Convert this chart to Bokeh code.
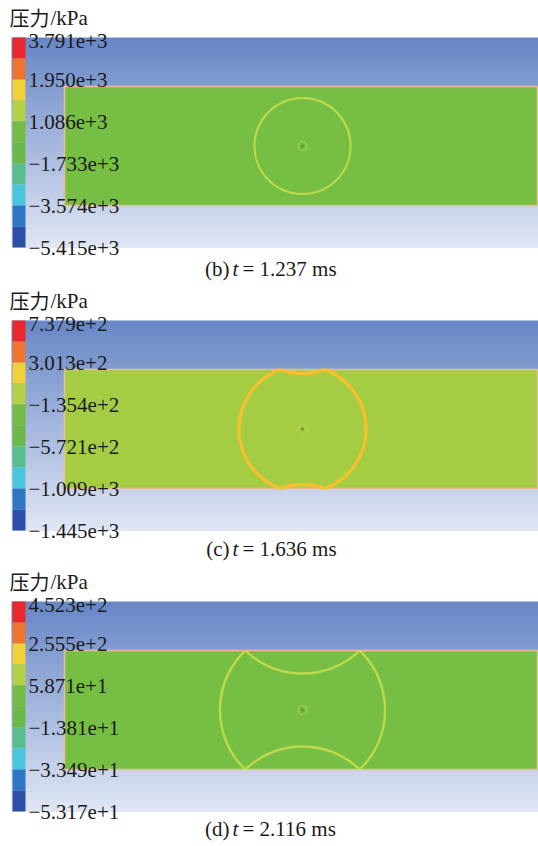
import numpy as np
from bokeh.plotting import figure
from bokeh.models import Range1d
from bokeh.core.properties import value
from bokeh.embed import file_html
from bokeh.resources import INLINE

# ---- data -------------------------------------------------------------
legend_quantity = "压力"
legend_unit = "/kPa"
# pressure legend levels (kPa), top to bottom, one list per snapshot
levels_b = ["3.791e+3", "1.950e+3", "1.086e+3", "\u22121.733e+3", "\u22123.574e+3", "\u22125.415e+3"]
levels_c = ["7.379e+2", "3.013e+2", "\u22121.354e+2", "\u22125.721e+2", "\u22121.009e+3", "\u22121.445e+3"]
levels_d = ["4.523e+2", "2.555e+2", "5.871e+1", "\u22121.381e+1", "\u22123.349e+1", "\u22125.317e+1"]
panel_tags = ["(b)", "(c)", "(d)"]
times_ms = [1.237, 1.636, 2.116]
# radius of the blast front in each snapshot (px in the plate view)
front_radius = [48.0, 63.5, 82.5]

# ---- styling ----------------------------------------------------------
palette = ["#e8282c", "#ee7530", "#f2d038", "#b3d146", "#74bc45",
           "#6db84a", "#58be8e", "#48c6dc", "#2e76c4", "#2b4fa6"]
plate_fill = ["#76bf44", "#a4cd44", "#76bf44"]
front_color = ["#bdd94c", "#f6c02e", "#c0da4c"]
front_width = [2.2, 3.4, 2.4]

panel_top = [0, 283, 564]
caption_y = [268, 548, 828]
bar_x0, bar_x1 = 12, 25
bar_h = 210
plate_x0, plate_x1 = 64, 537
bg_x0, bg_x1 = 11, 538
src_x = 302
serif = value("Liberation Serif")
ink = "#1a1a1a"

p = figure(width=538, height=846, output_backend="svg", toolbar_location=None,
           x_range=Range1d(0, 538), y_range=Range1d(846, 0),
           min_border=0, background_fill_color="white", border_fill_color="white")
p.axis.visible = False
p.grid.visible = False
p.outline_line_color = None

levels_all = [levels_b, levels_c, levels_d]

for k in range(3):
    oy = panel_top[k]
    bar_top = 37 + oy
    bar_bot = bar_top + bar_h

    # background sky gradient
    n = 70
    edges = np.linspace(bar_top, bar_bot, n + 1)
    c0 = np.array([104, 135, 198])
    c1 = np.array([224, 230, 244])
    tt = np.linspace(0, 1, n)
    cols = ["#%02x%02x%02x" % tuple((c0 + (c1 - c0) * t).astype(int)) for t in tt]
    p.quad(left=bg_x0, right=bg_x1, top=edges[:-1], bottom=edges[1:] + 0.5,
           fill_color=cols, line_color=None)

    # plate
    pl_top = 86 + oy
    pl_bot = 205 + oy
    p.quad(left=plate_x0, right=plate_x1, top=pl_top, bottom=pl_bot,
           fill_color=plate_fill[k], line_color="#ecbc98", line_width=1.6)

    # blast front: direct wave plus reflections from both faces
    cy = 0.5 * (pl_top + pl_bot)
    R = front_radius[k]
    th = np.linspace(0, 2 * np.pi, 721)
    xs_all, ys_all = [], []
    for ccy, keep in [(cy, lambda y: (y >= pl_top) & (y <= pl_bot)),
                      (2 * pl_top - cy, lambda y: y >= pl_top),
                      (2 * pl_bot - cy, lambda y: y <= pl_bot)]:
        xs = src_x + R * np.cos(th)
        ys = ccy + R * np.sin(th)
        m = keep(ys)
        xs = np.where(m, xs, np.nan)
        ys = np.where(m, ys, np.nan)
        xs_all.append(np.append(xs, np.nan))
        ys_all.append(np.append(ys, np.nan))
    p.line(np.concatenate(xs_all), np.concatenate(ys_all),
           line_color=front_color[k], line_width=front_width[k])

    # charge location
    p.scatter([src_x], [cy], size=9, marker="circle", fill_color=None,
              line_color="#bcd64e", line_width=1.2, line_alpha=0.8)
    p.scatter([src_x], [cy], size=3, marker="circle", fill_color="#5a9a40",
              line_color=None)

    # colour bar
    seg = bar_h / len(palette)
    tops = bar_top + seg * np.arange(len(palette))
    p.quad(left=bar_x0, right=bar_x1, top=tops, bottom=tops + seg,
           fill_color=palette, line_color=None)

    # level labels at every second boundary
    ly = bar_top + seg * 2 * np.arange(len(levels_all[k]))
    ly[0] += 3
    p.text(x=[28] * len(ly), y=ly, text=levels_all[k], text_font=serif,
           text_font_size="21px", text_baseline="middle", text_align="left",
           text_color=ink)

    # legend title: quantity and unit
    p.text(x=[9], y=[17 + oy], text=[legend_quantity],
           text_font=value("Noto Sans CJK SC"),
           text_font_size="20px", text_baseline="middle", text_align="left",
           text_color=ink)
    p.text(x=[50], y=[17 + oy], text=[legend_unit], text_font=serif,
           text_font_size="21px", text_baseline="middle", text_align="left",
           text_color=ink)

    # caption
    yc = caption_y[k]
    p.text(x=[229], y=[yc], text=[panel_tags[k]], text_font=serif,
           text_font_size="21px", text_baseline="middle", text_align="right",
           text_color=ink)
    p.text(x=[235], y=[yc], text=["t"], text_font=serif, text_font_style="italic",
           text_font_size="21px", text_baseline="middle", text_align="center",
           text_color=ink)
    p.text(x=[242], y=[yc], text=["= %.3f ms" % times_ms[k]], text_font=serif,
           text_font_size="21px", text_baseline="middle", text_align="left",
           text_color=ink)

open("out.html", "w").write(file_html(p, INLINE))
